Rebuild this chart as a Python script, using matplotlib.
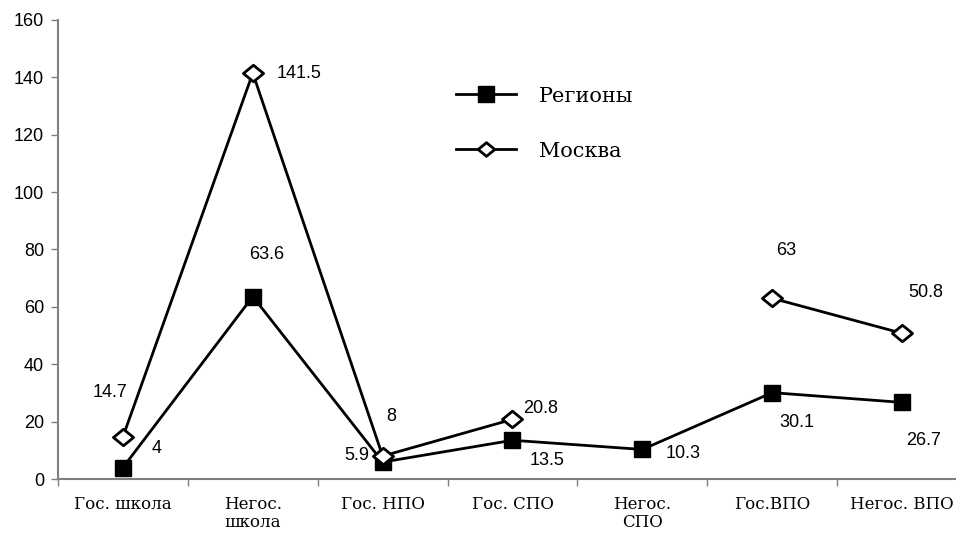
import matplotlib
matplotlib.use("Agg")
import matplotlib.pyplot as plt
from matplotlib.path import Path
import numpy as np

categories = ["Гос. школа", "Негос.\nшкола", "Гос. НПО", "Гос. СПО", "Негос.\nСПО", "Гос.ВПО", "Негос. ВПО"]
regions = [4, 63.6, 5.9, 13.5, 10.3, 30.1, 26.7]
moscow = [14.7, 141.5, 8, 20.8, np.nan, 63, 50.8]
region_labels = ["4", "63.6", "5.9", "13.5", "10.3", "30.1", "26.7"]
moscow_labels = ["14.7", "141.5", "8", "20.8", "", "63", "50.8"]
yticks = [0, 20, 40, 60, 80, 100, 120, 140, 160]

W, H = 956, 533
fig = plt.figure(figsize=(W / 100, H / 100), dpi=100)
left, right, top, bottom = 58, 967, 20, 479
ax = fig.add_axes([left / W, (H - bottom) / H, (right - left) / W, (bottom - top) / H])

diamond = Path([(-1, 0), (0, 0.82), (1, 0), (0, -0.82), (-1, 0)],
               [Path.MOVETO, Path.LINETO, Path.LINETO, Path.LINETO, Path.CLOSEPOLY])

x = np.arange(len(categories))
ax.plot(x, regions, color="black", lw=2, marker="s", markersize=12,
        markerfacecolor="black", markeredgecolor="black", label="Регионы", zorder=3)
ax.plot(x, moscow, color="black", lw=2, marker=diamond, markersize=14.5,
        markerfacecolor="white", markeredgecolor="black", markeredgewidth=2,
        label="Москва", zorder=4)

num_font = dict(fontfamily="Liberation Sans", fontsize=13)
ax.set_xlim(-0.5, len(categories) - 0.5)
ax.set_ylim(0, 160)
ax.set_yticks(yticks)
ax.set_yticklabels([str(v) for v in yticks], **num_font)
ax.set_xticks(x)
ax.set_xticklabels(categories, fontfamily="DejaVu Serif", fontsize=12, linespacing=1.1)
ax.set_xticks(np.arange(-0.5, len(categories) + 0.5, 1), minor=True)
ax.tick_params(axis="x", which="major", length=0, pad=12)
ax.tick_params(axis="x", which="minor", length=5, color="#808080", width=1)
ax.tick_params(axis="y", length=5, color="#808080", width=1, pad=5)

for s in ["top", "right"]:
    ax.spines[s].set_visible(False)
for s in ["left", "bottom"]:
    ax.spines[s].set_color("#808080")
    ax.spines[s].set_linewidth(1.5)

# label offsets in pixels (dx, dy) relative to markers
reg_off = [(34, 19), (14, 42), (-26, 7), (35, -20), (41, -4), (25, -30), (21, -38)]
mos_off = [(-13, 44), (46, 0), (9, 40), (28, 11), (0, 0), (14, 48), (24, 41)]
for i in range(len(categories)):
    ax.annotate(region_labels[i], (x[i], regions[i]), xytext=reg_off[i],
                textcoords="offset pixels", ha="center", va="center", **num_font)
    if moscow_labels[i]:
        ax.annotate(moscow_labels[i], (x[i], moscow[i]), xytext=mos_off[i],
                    textcoords="offset pixels", ha="center", va="center", **num_font)

leg = fig.legend(loc="upper left", bbox_to_anchor=(437 / W, 1 - 68 / H), frameon=False,
                 prop={"family": "DejaVu Serif", "size": 15}, handlelength=2.9,
                 handletextpad=1.1, labelspacing=1.72)
leg.legend_handles[0].set_markersize(11)
leg.legend_handles[1].set_markersize(12)

fig.savefig("out.png", dpi=100)
